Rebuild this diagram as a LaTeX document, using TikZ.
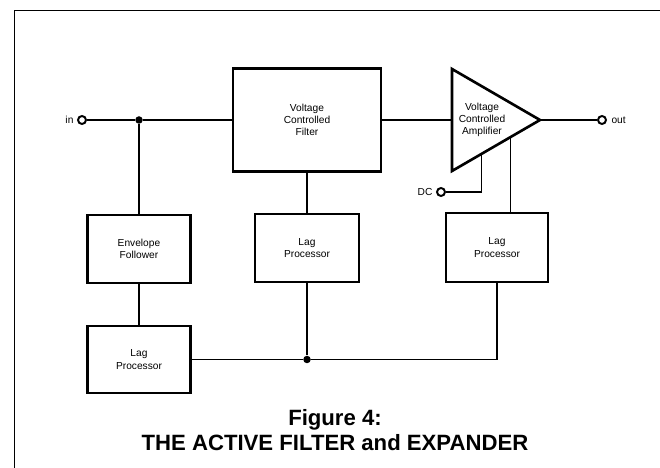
\documentclass[tikz,border=0pt]{standalone}
\usepackage{fontspec}
\setmainfont{Liberation Sans}
\usetikzlibrary{calc,positioning}

\begin{document}
\begin{tikzpicture}[x=0.2mm,y=0.2mm,
  blockbox/.style={draw=cb,fill=cf,line width=1.5pt,text=cl,align=center,inner sep=0pt,
    font=\fontsize{5.8}{6.9}\selectfont},
  wire/.style={draw=cw,line width=0.6pt},
  termcirc/.style={circle,draw=cb,fill=cf,line width=1.1pt,minimum size=1.6mm,inner sep=0pt},
  junc/.style={circle,fill=cb,minimum size=1.5mm,inner sep=0pt},
  smalllabel/.style={text=cl,inner sep=1pt,font=\fontsize{5.8}{7}\selectfont}]
%
\useasboundingbox (0,0) rectangle (660,468);
%
\definecolor{cb}{rgb}{0.0,0.0,0.0}
\definecolor{cf}{rgb}{1.0,1.0,1.0}
\definecolor{cl}{rgb}{0.0,0.0,0.0}
\definecolor{cw}{rgb}{0.0,0.0,0.0}
%
\draw[draw=cb,line width=0.8pt] (14.5,0) -- (14.5,457.5) -- (660,457.5);
%
\node[blockbox,minimum width=29.6mm,minimum height=20.6mm] (vcf) at (307,348) {Voltage\\Controlled\\Filter};
\node[blockbox,minimum width=20.6mm,minimum height=13.6mm] (envf) at (139,219) {Envelope\\Follower};
\node[blockbox,minimum width=20.6mm,minimum height=13.4mm] (lagA) at (139,108.5) {Lag\\Processor};
\node[blockbox,minimum width=20.8mm,minimum height=13.6mm] (lagB) at (307,220) {Lag\\Processor};
\node[blockbox,minimum width=20.4mm,minimum height=13.8mm] (lagC) at (497,220.5) {Lag\\Processor};
%
\coordinate (vcaT) at (452,399);
\coordinate (vcaB) at (452,297);
\coordinate (vcaA) at (540,348);
\draw[draw=cb,line width=1.5pt] (vcaT) -- (vcaA) -- (vcaB) -- cycle;
\node[smalllabel,align=center,font=\fontsize{5.8}{6.9}\selectfont] (vca) at (482,348) {Voltage\\Controlled\\Amplifier};
\coordinate (tapdc) at ($(vcaB)!0.33!(vcaA)$);
\coordinate (taplag) at ($(vcaB)!0.66!(vcaA)$);
%
\node[termcirc] (pin) at (82,348) {};
\node[smalllabel,left=0.3mm of pin] (lin) {in};
\node[termcirc] (pout) at (602,348) {};
\node[smalllabel,right=0.5mm of pout] (lout) {out};
\node[termcirc] (pdc) at (441,276) {};
\node[smalllabel,left=0.3mm of pdc] (ldc) {DC};
\node[junc] (jin) at (139,348) {};
\node[junc] (jbus) at (307,108.5) {};
%
\draw[wire] (pin) -- (jin) -- (vcf);
\draw[wire] (jin) -- (envf);
\draw[wire] (envf) -- (lagA);
\draw[wire] (vcf) -- (lagB);
\draw[wire] (vcf.east) -- (vcf.east -| vcaT);
\draw[wire] (vcaA) -- (pout);
\draw[wire] (pdc) -- (pdc -| tapdc) -- (tapdc);
\draw[wire] (taplag) -- (taplag |- lagC.north);
\draw[wire] (lagA) -- (jbus);
\draw[wire] (lagB) -- (jbus);
\draw[wire] (jbus) -- (jbus -| lagC.south) -- (lagC.south);
%
\node[align=center,text=cl,font=\bfseries\fontsize{12.6}{14.2}\selectfont] (caption) at (335,37.5) {Figure 4:\\THE ACTIVE FILTER and EXPANDER};
%
\end{tikzpicture}
\end{document}
